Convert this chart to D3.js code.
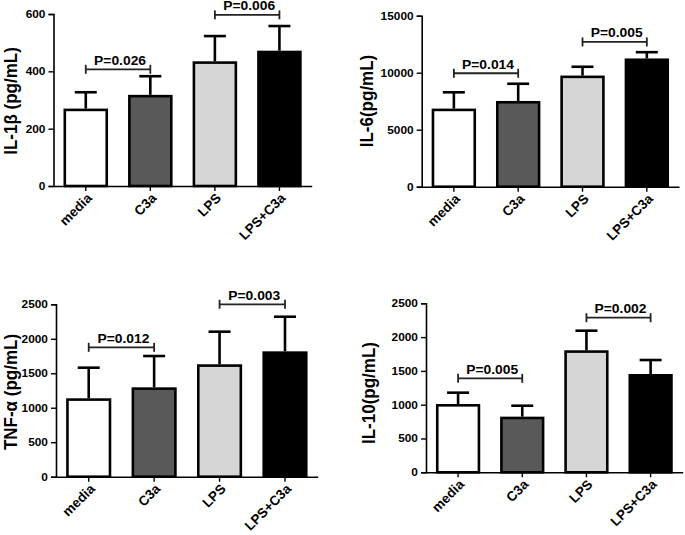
<!DOCTYPE html>
<html>
<head>
<meta charset="utf-8">
<script src="https://cdn.jsdelivr.net/npm/d3@7/dist/d3.min.js"></script>
<style>
  html, body { margin: 0; padding: 0; background: #fff; }
  svg { display: block; }
  text { font-family: "Liberation Sans", Arial, sans-serif; font-weight: bold; fill: #000; }
</style>
</head>
<body>
<svg id="chart" width="685" height="535"></svg>
<script>
// ---- data ----
const categories = ["media", "C3a", "LPS", "LPS+C3a"];
const barFills = ["#ffffff", "#595959", "#d6d6d6", "#000000"];

const il1bMean = [270, 318, 435, 472];
const il1bSD   = [57, 65, 88, 86];
const il1bTicks = [0, 200, 400, 600];

const il6Mean = [6850, 7520, 9750, 11250];
const il6SD   = [1430, 1510, 770, 550];
const il6Ticks = [0, 5000, 10000, 15000];

const tnfMean = [1137, 1296, 1630, 1818];
const tnfSD   = [444, 454, 473, 502];
const tnfTicks = [0, 500, 1000, 1500, 2000, 2500];

const il10Mean = [1010, 823, 1805, 1454];
const il10SD   = [168, 162, 290, 207];
const il10Ticks = [0, 500, 1000, 1500, 2000, 2500];

// significance brackets: [from index, to index, level, label]
const il1bSig = [[0, 1, 407, "P=0.026"], [2, 3, 597, "P=0.006"]];
const il6Sig  = [[0, 1, 9950, "P=0.014"], [2, 3, 12700, "P=0.005"]];
const tnfSig  = [[0, 1, 1876, "P=0.012"], [2, 3, 2500, "P=0.003"]];
const il10Sig = [[0, 1, 1390, "P=0.005"], [2, 3, 2287, "P=0.002"]];

// ---- layout ----
const panels = [
  { label: "IL-1\u03b2 (pg/mL)", mean: il1bMean, sd: il1bSD, ticks: il1bTicks, sig: il1bSig,
    x0: 53.5, x1: 311.7, yTop: 14, yBot: 186, labX: 17, labY: 101 },
  { label: "IL-6(pg/mL)", mean: il6Mean, sd: il6SD, ticks: il6Ticks, sig: il6Sig,
    x0: 421.7, x1: 679, yTop: 15.7, yBot: 186.7, labX: 373, labY: 101 },
  { label: "TNF-\u03b1 (pg/mL)", mean: tnfMean, sd: tnfSD, ticks: tnfTicks, sig: tnfSig,
    x0: 56, x1: 317.7, yTop: 304.3, yBot: 476.7, labX: 16.5, labY: 392 },
  { label: "IL-10(pg/mL)", mean: il10Mean, sd: il10SD, ticks: il10Ticks, sig: il10Sig,
    x0: 426, x1: 682.7, yTop: 303.3, yBot: 472.3, labX: 375, labY: 393 }
];

const FONT = "'Liberation Sans', Arial, sans-serif";

const svg = d3.select("#chart");
svg.append("rect").attr("width", 685).attr("height", 535).attr("fill", "#fff");

panels.forEach(p => {
  const g = svg.append("g");
  const x = d3.scaleBand().domain(categories).range([p.x0, p.x1])
    .paddingInner(0.31).paddingOuter(0.155);
  const y = d3.scaleLinear().domain([0, p.ticks[p.ticks.length - 1]]).range([p.yBot, p.yTop]);
  const bw = x.bandwidth();

  // error bars (upper only)
  const eb = g.append("g").attr("stroke", "#000").attr("stroke-width", 2.6).attr("fill", "none");
  categories.forEach((c, i) => {
    const cx = x(c) + bw / 2;
    eb.append("line").attr("x1", cx).attr("x2", cx)
      .attr("y1", y(p.mean[i])).attr("y2", y(p.mean[i] + p.sd[i]));
    eb.append("line").attr("x1", cx - 11).attr("x2", cx + 11)
      .attr("y1", y(p.mean[i] + p.sd[i])).attr("y2", y(p.mean[i] + p.sd[i]));
  });

  // bars
  g.append("g").selectAll("rect").data(categories).join("rect")
    .attr("x", d => x(d) + 1.3)
    .attr("width", bw - 2.6)
    .attr("y", (d, i) => y(p.mean[i]) + 1.3)
    .attr("height", (d, i) => y(0) - y(p.mean[i]) - 1.3)
    .attr("fill", (d, i) => barFills[i])
    .attr("stroke", "#000").attr("stroke-width", 2.6);

  // y axis
  const ya = g.append("g").attr("transform", `translate(${p.x0},0)`)
    .call(d3.axisLeft(y).tickValues(p.ticks).tickFormat(d3.format("d")).tickSize(5).tickPadding(2.2));
  ya.select(".domain").attr("stroke-width", 1.6);
  ya.selectAll(".tick line").attr("stroke-width", 1.4);
  ya.selectAll("text").style("font-size", "10.6px").style("font-family", FONT).style("font-weight", "bold")
    .attr("transform", "scale(1.12,1)");

  // x axis
  const xa = g.append("g").attr("transform", `translate(0,${p.yBot})`)
    .call(d3.axisBottom(x).tickSize(5).tickSizeOuter(0).tickPadding(3));
  xa.select(".domain").attr("stroke-width", 1.6);
  xa.selectAll(".tick line").attr("stroke-width", 1.4);
  xa.selectAll("text")
    .style("font-size", "13.5px").style("font-family", FONT).style("font-weight", "bold")
    .attr("text-anchor", "end")
    .attr("dy", null).attr("y", null)
    .attr("transform", "translate(7,13) rotate(-45)");

  // y label
  g.append("text")
    .attr("transform", `translate(${p.labX},${p.labY}) scale(1.08,1) rotate(-90)`)
    .attr("text-anchor", "middle")
    .style("font-size", "17px")
    .text(p.label);

  // significance brackets
  p.sig.forEach(([a, b, lvl, lab]) => {
    const xa1 = x(categories[a]) + bw / 2, xb1 = x(categories[b]) + bw / 2;
    const yy = y(lvl);
    const sg = g.append("g").attr("stroke", "#222").attr("stroke-width", 1.8);
    sg.append("line").attr("x1", xa1).attr("x2", xb1).attr("y1", yy).attr("y2", yy);
    sg.append("line").attr("x1", xa1).attr("x2", xa1).attr("y1", yy - 4.5).attr("y2", yy + 4.5);
    sg.append("line").attr("x1", xb1).attr("x2", xb1).attr("y1", yy - 4.5).attr("y2", yy + 4.5);
    const tx = (xa1 + xb1) / 2 + 2;
    g.append("text")
      .attr("transform", `translate(${tx},${yy - 4.5}) scale(1.1,1)`)
      .attr("text-anchor", "middle").style("font-size", "12.6px").text(lab);
  });
});
</script>
</body>
</html>
